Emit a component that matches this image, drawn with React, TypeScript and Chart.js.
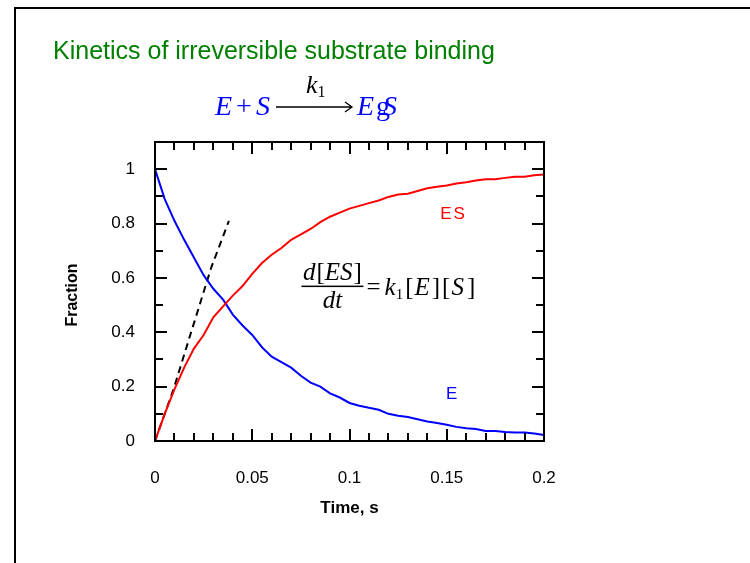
import React, { useEffect, useRef } from "react";
import { Chart, registerables } from "chart.js";

Chart.register(...registerables);

// Time points (s) of the simulated binding run
const TIME = [
  0, 0.005, 0.01, 0.015, 0.02, 0.025, 0.03, 0.035, 0.04, 0.045, 0.05, 0.055, 0.06, 0.065,
  0.07, 0.075, 0.08, 0.085, 0.09, 0.095, 0.1, 0.105, 0.11, 0.115, 0.12, 0.125, 0.13, 0.135,
  0.14, 0.145, 0.15, 0.155, 0.16, 0.165, 0.17, 0.175, 0.18, 0.185, 0.19, 0.195, 0.2,
];

// Fraction of free enzyme E
const E_FRACTION = [
  1.0, 0.89, 0.81, 0.74, 0.675, 0.61, 0.56, 0.52, 0.465, 0.425, 0.39, 0.345, 0.31, 0.29,
  0.27, 0.24, 0.215, 0.2, 0.175, 0.16, 0.14, 0.13, 0.122, 0.115, 0.1, 0.093, 0.088, 0.08,
  0.072, 0.066, 0.06, 0.052, 0.047, 0.044, 0.037, 0.037, 0.033, 0.031, 0.031, 0.028, 0.022,
];

// Fraction of complex ES
const ES_FRACTION = [
  0, 0.1, 0.19, 0.27, 0.34, 0.39, 0.455, 0.495, 0.535, 0.57, 0.615, 0.655, 0.685, 0.71,
  0.74, 0.76, 0.78, 0.805, 0.825, 0.84, 0.855, 0.865, 0.875, 0.885, 0.898, 0.907, 0.91, 0.92,
  0.93, 0.935, 0.94, 0.947, 0.952, 0.958, 0.963, 0.963, 0.968, 0.972, 0.972, 0.978, 0.98,
];

// Initial-rate tangent to the ES curve
const SLOPE_TIME = [0, 0.0095, 0.019, 0.029, 0.038];
const SLOPE_VALUE = [0, 0.19, 0.41, 0.64, 0.81];

const X_TICKS = [0, 0.05, 0.1, 0.15, 0.2];
const X_TICK_LABELS = ["0", "0.05", "0.1", "0.15", "0.2"];
const Y_TICKS = [0, 0.2, 0.4, 0.6, 0.8, 1];
const Y_TICK_LABELS = ["0", "0.2", "0.4", "0.6", "0.8", "1"];

const SANS = "'Liberation Sans', Arial, sans-serif";
const SERIF = "'Liberation Serif', 'Times New Roman', serif";

type Run = { text: string; italic?: boolean; size: number; dy?: number; gap?: number; color?: string };

// Draws a sequence of text pieces on one baseline, returns the end x
function drawRuns(ctx: CanvasRenderingContext2D, x: number, baseline: number, runs: Run[], color: string) {
  let cx = x;
  ctx.textBaseline = "alphabetic";
  ctx.textAlign = "left";
  for (const r of runs) {
    cx += r.gap ?? 0;
    ctx.font = `${r.italic ? "italic " : ""}${r.size}px ${SERIF}`;
    ctx.fillStyle = r.color ?? color;
    ctx.fillText(r.text, cx, baseline + (r.dy ?? 0));
    cx += ctx.measureText(r.text).width;
  }
  return cx;
}

function measureRuns(ctx: CanvasRenderingContext2D, runs: Run[]) {
  let w = 0;
  for (const r of runs) {
    w += r.gap ?? 0;
    ctx.font = `${r.italic ? "italic " : ""}${r.size}px ${SERIF}`;
    w += ctx.measureText(r.text).width;
  }
  return w;
}

const decorations = {
  id: "decorations",
  afterDraw(chart: Chart) {
    const { ctx, chartArea: a } = chart;
    const x = chart.scales.x;
    const y = chart.scales.y;
    ctx.save();

    // plot frame
    ctx.strokeStyle = "#000";
    ctx.lineWidth = 2;
    ctx.strokeRect(a.left, a.top, a.right - a.left, a.bottom - a.top);

    // inward ticks on all four sides
    ctx.beginPath();
    for (let i = 0; i <= 20; i++) {
      const v = i / 100;
      const px = Math.round(x.getPixelForValue(v));
      const len = i % 5 === 0 ? 12 : 8;
      ctx.moveTo(px, a.bottom);
      ctx.lineTo(px, a.bottom - len);
      ctx.moveTo(px, a.top);
      ctx.lineTo(px, a.top + len);
    }
    for (let i = 0; i <= 11; i++) {
      const v = i / 10;
      const py = Math.round(y.getPixelForValue(v));
      const len = i % 2 === 0 ? 12 : 8;
      ctx.moveTo(a.left, py);
      ctx.lineTo(a.left + len, py);
      ctx.moveTo(a.right, py);
      ctx.lineTo(a.right - len, py);
    }
    ctx.stroke();

    // y axis title
    ctx.save();
    ctx.translate(73, 295);
    ctx.rotate(-Math.PI / 2);
    ctx.font = `bold 16px ${SANS}`;
    ctx.fillStyle = "#000";
    ctx.textAlign = "center";
    ctx.textBaseline = "middle";
    ctx.fillText("Fraction", 0, 0);
    ctx.restore();

    // series labels
    ctx.font = `17px ${SANS}`;
    ctx.textAlign = "center";
    ctx.textBaseline = "middle";
    ctx.fillStyle = "#ff0000";
    (ctx as any).letterSpacing = "2px";
    ctx.fillText("ES", x.getPixelForValue(0.1535), y.getPixelForValue(0.835));
    (ctx as any).letterSpacing = "0px";
    ctx.fillStyle = "#0000ff";
    ctx.fillText("E", x.getPixelForValue(0.1525), y.getPixelForValue(0.173));

    // rate law: d[ES]/dt = k1[E][S]
    const fracX = x.getPixelForValue(0.0753);
    const barY = y.getPixelForValue(0.569);
    const num: Run[] = [
      { text: "d", italic: true, size: 25 },
      { text: "[", size: 25, gap: 1 },
      { text: "ES", italic: true, size: 25 },
      { text: "]", size: 25, gap: 1 },
    ];
    const den: Run[] = [
      { text: "d", italic: true, size: 25 },
      { text: "t", italic: true, size: 25 },
    ];
    const numW = measureRuns(ctx, num);
    const denW = measureRuns(ctx, den);
    const barW = 62;
    drawRuns(ctx, fracX + (barW - numW) / 2, barY - 6, num, "#000");
    drawRuns(ctx, fracX + (barW - denW) / 2, barY + 22, den, "#000");
    ctx.fillStyle = "#000";
    ctx.fillRect(fracX, barY - 0.75, barW, 1.5);
    drawRuns(
      ctx,
      fracX + barW + 3,
      barY + 9,
      [
        { text: "=", size: 25 },
        { text: "k", italic: true, size: 25, gap: 4 },
        { text: "1", size: 15, dy: 4 },
        { text: "[", size: 25, gap: 2 },
        { text: "E", italic: true, size: 25, gap: 1 },
        { text: "]", size: 25, gap: 2 },
        { text: "[", size: 25, gap: 2 },
        { text: "S", italic: true, size: 25, gap: 1 },
        { text: "]", size: 25, gap: 3 },
      ],
      "#000"
    );

    // slide title
    ctx.font = `25px ${SANS}`;
    ctx.fillStyle = "#008000";
    ctx.textAlign = "left";
    ctx.textBaseline = "alphabetic";
    ctx.fillText("Kinetics of irreversible substrate binding", 53, 59);

    // reaction scheme E + S --k1--> E.S
    const base = 115;
    drawRuns(
      ctx,
      215,
      base,
      [
        { text: "E", italic: true, size: 28 },
        { text: "+", size: 28, gap: 4 },
        { text: "S", italic: true, size: 28, gap: 4 },
      ],
      "#0000ff"
    );
    const arrowL = 276;
    const arrowR = 352;
    const arrowY = 107;
    ctx.strokeStyle = "#000";
    ctx.lineWidth = 1.3;
    ctx.beginPath();
    ctx.moveTo(arrowL, arrowY);
    ctx.lineTo(arrowR, arrowY);
    ctx.moveTo(arrowR - 7, arrowY - 5);
    ctx.lineTo(arrowR, arrowY);
    ctx.lineTo(arrowR - 7, arrowY + 5);
    ctx.stroke();
    drawRuns(
      ctx,
      306,
      93,
      [
        { text: "k", italic: true, size: 26 },
        { text: "1", size: 16, dy: 4 },
      ],
      "#000"
    );
    const eEnd = drawRuns(ctx, 357, base, [{ text: "E", italic: true, size: 28 }], "#0000ff");
    drawRuns(ctx, eEnd + 2, base, [{ text: "g", size: 28 }], "#0000ff");
    drawRuns(ctx, eEnd + 9, base, [{ text: "S", italic: true, size: 28 }], "#0000ff");

    ctx.restore();
  },
};

export default function App() {
  const canvasRef = useRef<HTMLCanvasElement | null>(null);

  useEffect(() => {
    const canvas = canvasRef.current;
    if (!canvas) return;
    Chart.defaults.font.family = SANS;
    const chart = new Chart(canvas, {
      type: "line",
      data: {
        datasets: [
          {
            label: "ES",
            data: TIME.map((t, i) => ({ x: t, y: ES_FRACTION[i] })),
            borderColor: "#ff0000",
            borderWidth: 2,
            pointRadius: 0,
            tension: 0,
          },
          {
            label: "E",
            data: TIME.map((t, i) => ({ x: t, y: E_FRACTION[i] })),
            borderColor: "#0000ff",
            borderWidth: 2,
            pointRadius: 0,
            tension: 0,
          },
          {
            label: "initial rate",
            data: SLOPE_TIME.map((t, i) => ({ x: t, y: SLOPE_VALUE[i] })),
            borderColor: "#000",
            borderWidth: 2,
            borderDash: [7, 5],
            pointRadius: 0,
            tension: 0,
          },
        ],
      },
      options: {
        responsive: false,
        animation: false,
        layout: { padding: { left: 0, right: 206, top: 142, bottom: 0 } },
        plugins: {
          legend: { display: false },
          tooltip: { enabled: false },
          title: { display: false },
        },
        scales: {
          x: {
            type: "linear",
            position: "bottom",
            min: 0,
            max: 0.2,
            grid: { display: false, drawTicks: false },
            border: { display: false },
            afterFit: (s: any) => {
              s.height = 122;
            },
            afterBuildTicks: (s: any) => {
              s.ticks = X_TICKS.map((v) => ({ value: v }));
            },
            ticks: {
              color: "#000",
              font: { family: SANS, size: 17 },
              padding: 27,
              maxRotation: 0,
              autoSkip: false,
              callback: (_v: any, i: number) => X_TICK_LABELS[i],
            },
            title: {
              display: true,
              text: "Time, s",
              color: "#000",
              font: { family: SANS, size: 17, weight: "bold" },
              padding: { top: 0, bottom: 44 },
            },
          },
          y: {
            type: "linear",
            position: "left",
            min: 0,
            max: 1.1,
            grid: { display: false, drawTicks: false },
            border: { display: false },
            afterFit: (s: any) => {
              s.width = 155;
            },
            afterBuildTicks: (s: any) => {
              s.ticks = Y_TICKS.map((v) => ({ value: v }));
            },
            ticks: {
              color: "#000",
              font: { family: SANS, size: 17 },
              padding: 20,
              autoSkip: false,
              callback: (_v: any, i: number) => Y_TICK_LABELS[i],
            },
          },
        },
      },
      plugins: [decorations],
    });
    return () => chart.destroy();
  }, []);

  return (
    <div style={{ position: "absolute", left: 0, top: 0, width: 750, height: 563, background: "#fff" }}>
      <div
        style={{
          position: "absolute",
          left: 14,
          top: 7,
          right: 0,
          bottom: 0,
          borderLeft: "2px solid #000",
          borderTop: "2px solid #000",
        }}
      />
      <canvas ref={canvasRef} width={750} height={563} style={{ position: "absolute", left: 0, top: 0 }} />
    </div>
  );
}
